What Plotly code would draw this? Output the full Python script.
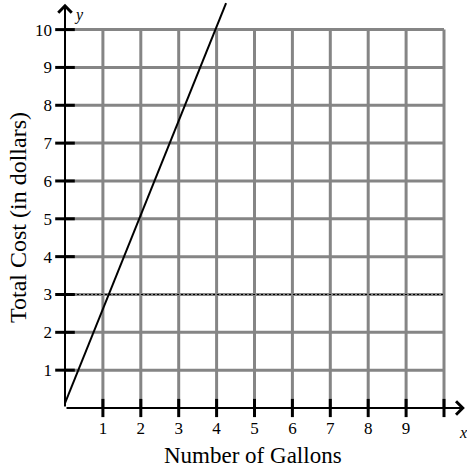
import plotly.graph_objects as go

# ---- data ----
GALLONS = [0, 4.25]          # x of the cost line (start / end as drawn)
COST = [0.13, 10.7]          # y of the cost line
X_TICKS = [1, 2, 3, 4, 5, 6, 7, 8, 9, 10]
X_TICK_LABELS = ["1", "2", "3", "4", "5", "6", "7", "8", "9", ""]
Y_TICKS = [1, 2, 3, 4, 5, 6, 7, 8, 9, 10]
Y_TICK_LABELS = ["1", "2", "3", "4", "5", "6", "7", "8", "9", "10"]
HIGHLIGHT_Y = 3
GRID_MAX = 10
X_ARROW = 10.55
Y_ARROW = 10.68

# ---- geometry (pixels) ----
W, H = 467, 469
L, B, R, T = 65, 61, 0, 0
SX, SY = 37.9, 37.84
plot_w = W - L - R
plot_h = H - B - T
x_range = [0, plot_w / SX]
y_range = [0, plot_h / SY]

FONT = "Liberation Serif"
GRID = "#858585"

fig = go.Figure()

# cost line
fig.add_trace(go.Scatter(x=GALLONS, y=COST, mode="lines",
                         line=dict(color="black", width=2),
                         hoverinfo="skip", showlegend=False))
# tick marks crossing the axes
fig.add_trace(go.Scatter(x=X_TICKS, y=[0] * len(X_TICKS), mode="markers",
                         marker=dict(symbol="line-ns", size=13,
                                     line=dict(color="black", width=3)),
                         cliponaxis=False, hoverinfo="skip", showlegend=False))
fig.add_trace(go.Scatter(x=[0] * len(Y_TICKS), y=Y_TICKS, mode="markers",
                         marker=dict(symbol="line-ew", size=14,
                                     line=dict(color="black", width=3)),
                         cliponaxis=False, hoverinfo="skip", showlegend=False))

shapes = []
for v in X_TICKS:
    shapes.append(dict(type="line", xref="x", yref="y", x0=v, x1=v, y0=0, y1=GRID_MAX,
                       line=dict(color=GRID, width=3), layer="below"))
for v in Y_TICKS:
    shapes.append(dict(type="line", xref="x", yref="y", x0=0, x1=GRID_MAX, y0=v, y1=v,
                       line=dict(color=GRID, width=3), layer="below"))
shapes.append(dict(type="line", xref="x", yref="y", x0=0, x1=GRID_MAX,
                   y0=HIGHLIGHT_Y, y1=HIGHLIGHT_Y,
                   line=dict(color="black", width=1.2, dash="2px,2px"), layer="below"))

def px_x(p):
    return (p - L) / plot_w

def px_y(p):
    return (H - B - p) / plot_h

annotations = [
    # axes with arrowheads
    dict(x=X_ARROW, y=0, ax=0, ay=0, xref="x", yref="y", axref="x", ayref="y",
         text="", showarrow=True, arrowhead=4, arrowsize=1.3, arrowwidth=2,
         arrowcolor="black", standoff=0, startstandoff=0),
    dict(x=0, y=Y_ARROW, ax=0, ay=0, xref="x", yref="y", axref="x", ayref="y",
         text="", showarrow=True, arrowhead=4, arrowsize=1.3, arrowwidth=2,
         arrowcolor="black", standoff=0, startstandoff=0),
    # axis titles
    dict(x=px_x(253), y=px_y(455), xref="paper", yref="paper", text="Number of Gallons",
         showarrow=False, xanchor="center", yanchor="middle",
         font=dict(family=FONT, size=23, color="black")),
    dict(x=px_x(18), y=px_y(218), xref="paper", yref="paper", text="Total Cost (in dollars)",
         showarrow=False, xanchor="center", yanchor="middle", textangle=-90,
         font=dict(family=FONT, size=24, color="black")),
    # axis variable labels
    dict(x=px_x(463), y=px_y(432), xref="paper", yref="paper", text="<i>x</i>",
         showarrow=False, xanchor="center", yanchor="middle",
         font=dict(family=FONT, size=16, color="black")),
    dict(x=px_x(79), y=px_y(15), xref="paper", yref="paper", text="<i>y</i>",
         showarrow=False, xanchor="center", yanchor="middle",
         font=dict(family=FONT, size=16, color="black")),
]

fig.update_layout(
    width=W, height=H,
    margin=dict(l=L, r=R, t=T, b=B, pad=0),
    paper_bgcolor="white", plot_bgcolor="white",
    shapes=shapes, annotations=annotations,
    showlegend=False,
    xaxis=dict(range=x_range, tickmode="array", tickvals=X_TICKS, ticktext=X_TICK_LABELS,
               showgrid=False, zeroline=False, showline=False, ticks="",
               ticklabelstandoff=8,
               tickfont=dict(family=FONT, size=17, color="black"), fixedrange=True),
    yaxis=dict(range=y_range, tickmode="array", tickvals=Y_TICKS, ticktext=Y_TICK_LABELS,
               showgrid=False, zeroline=False, showline=False, ticks="",
               ticklabelstandoff=12,
               tickfont=dict(family=FONT, size=17, color="black"), fixedrange=True),
)

fig.write_html("out.html", config={"displayModeBar": False},
               post_script="document.body.style.margin='0px';document.body.style.overflow='hidden';")
